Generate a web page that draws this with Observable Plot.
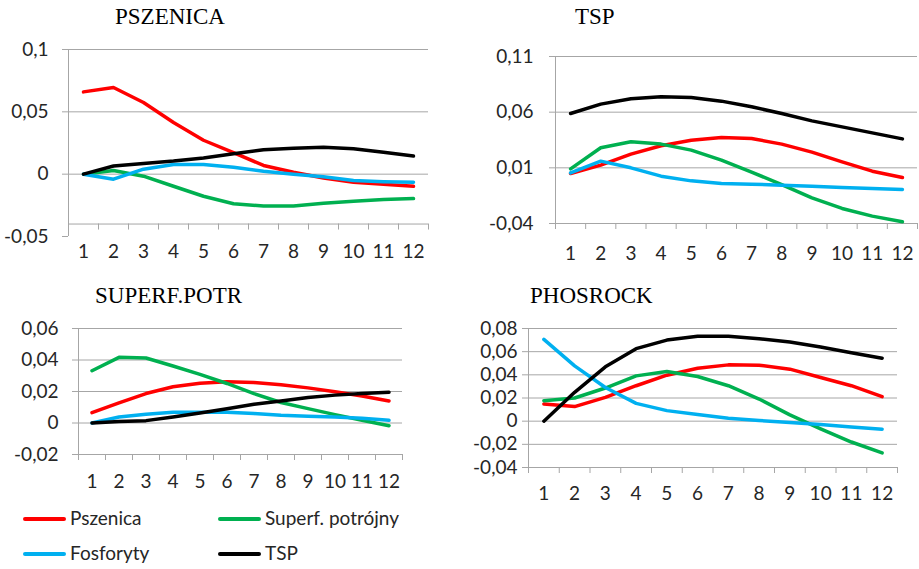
<!DOCTYPE html>
<html>
<head>
<meta charset="utf-8">
<script src="https://cdn.jsdelivr.net/npm/d3@7"></script>
<script src="https://cdn.jsdelivr.net/npm/@observablehq/plot@0.6"></script>
<style>
  html, body { margin: 0; padding: 0; background: #ffffff; }
  #root { position: relative; width: 919px; height: 569px; overflow: hidden; background: #ffffff; }
  .layer { position: absolute; left: 0; top: 0; }
  .title { position: absolute; font-family: "Liberation Serif", "Times New Roman", serif; font-size: 23px; line-height: 23px; color: #000; white-space: nowrap; }
  .leg { position: absolute; font-family: Lato, "Open Sans", sans-serif; font-size: 19px; line-height: 22px; color: #262626; white-space: nowrap; }
  .sw { position: absolute; height: 4px; border-radius: 2px; }
</style>
</head>
<body>
<div id="root"></div>
<script>
// ---------- data ----------
const categories = [1, 2, 3, 4, 5, 6, 7, 8, 9, 10, 11, 12];
const seriesNames = ["Pszenica", "Superf. potrójny", "Fosforyty", "TSP"];
const seriesColors = ["#ff0000", "#00b050", "#00b0f0", "#000000"];
const panelTitles = ["PSZENICA", "TSP", "SUPERF.POTR", "PHOSROCK"];

// PSZENICA
const pszenica_Pszenica = [0.066, 0.0695, 0.0575, 0.0414, 0.0272, 0.0172, 0.007, 0.0016, -0.003, -0.0065, -0.008, -0.0097];
const pszenica_Superf = [0, 0.003, -0.0016, -0.0097, -0.0177, -0.0237, -0.0255, -0.0255, -0.0234, -0.0218, -0.0204, -0.0196];
const pszenica_Fosforyty = [0, -0.004, 0.004, 0.0078, 0.0078, 0.0056, 0.0024, 0, -0.002, -0.005, -0.006, -0.0065];
const pszenica_TSP = [0, 0.0065, 0.0086, 0.0105, 0.013, 0.0164, 0.0196, 0.0207, 0.0215, 0.0204, 0.0175, 0.0145];
const pszenicaTicks = [-0.05, 0, 0.05, 0.1];

// TSP
const tsp_Pszenica = [0.0049, 0.0124, 0.0223, 0.0298, 0.0348, 0.0372, 0.0363, 0.0313, 0.0241, 0.0154, 0.007, 0.0013];
const tsp_Superf = [0.0091, 0.028, 0.0334, 0.0313, 0.0259, 0.0169, 0.0061, -0.005, -0.017, -0.0265, -0.0334, -0.0385];
const tsp_Fosforyty = [0.0055, 0.016, 0.01, 0.0025, -0.0017, -0.0041, -0.0047, -0.0056, -0.0065, -0.0077, -0.0086, -0.0095];
const tsp_TSP = [0.0588, 0.0672, 0.072, 0.0738, 0.0732, 0.0699, 0.0648, 0.0588, 0.0522, 0.0468, 0.0414, 0.036];
const tspTicks = [-0.04, 0.01, 0.06, 0.11];

// SUPERF.POTR
const superf_Pszenica = [0.0066, 0.0128, 0.0187, 0.023, 0.0253, 0.0262, 0.0257, 0.0243, 0.0223, 0.0198, 0.0172, 0.014];
const superf_Superf = [0.0332, 0.0417, 0.0413, 0.0362, 0.0309, 0.0251, 0.0187, 0.013, 0.0091, 0.0053, 0.0017, -0.0017];
const superf_Fosforyty = [0, 0.0038, 0.0055, 0.0068, 0.0068, 0.0068, 0.006, 0.0049, 0.0043, 0.0038, 0.003, 0.0017];
const superf_TSP = [0, 0.0009, 0.0015, 0.0038, 0.0064, 0.0091, 0.0119, 0.014, 0.0162, 0.0177, 0.0187, 0.0196];
const superfTicks = [-0.02, 0, 0.02, 0.04, 0.06];

// PHOSROCK
const phos_Pszenica = [0.0149, 0.0126, 0.0206, 0.0306, 0.0397, 0.0457, 0.0486, 0.0483, 0.0449, 0.0377, 0.0306, 0.0211];
const phos_Superf = [0.0177, 0.02, 0.0286, 0.0391, 0.0429, 0.0386, 0.0306, 0.0191, 0.0054, -0.0066, -0.018, -0.0274];
const phos_Fosforyty = [0.0706, 0.0477, 0.0291, 0.0154, 0.0091, 0.0057, 0.0026, 0.0006, -0.0011, -0.0029, -0.0051, -0.0069];
const phos_TSP = [0, 0.0249, 0.0469, 0.0626, 0.07, 0.0734, 0.0734, 0.0711, 0.0683, 0.064, 0.0591, 0.0543];
const phosTicks = [-0.04, -0.02, 0, 0.02, 0.04, 0.06, 0.08];

// ---------- drawing ----------
const W = 919, H = 569;
const root = document.getElementById("root");
const GRID = "#a6a6a6";
const TEXT = "#262626";
const fmt = d => String(d).replace(".", ",");

function panel(cfg) {
  const data = cfg.series.flatMap((vals, i) =>
    vals.map((v, j) => ({x: categories[j], y: v, s: seriesNames[i]})));
  const [l, t, r, b] = cfg.frame;
  const xDomain = [categories[0] - 0.5, categories[categories.length - 1] + 0.5];
  const bounds = categories.map(c => c - 0.5).concat([xDomain[1]]);
  const yDomain = [cfg.ticks[0], cfg.ticks[cfg.ticks.length - 1]];
  const chart = Plot.plot({
    width: W, height: H,
    marginLeft: l, marginTop: t, marginRight: W - r, marginBottom: H - b,
    style: {background: "transparent", fontFamily: "Lato, 'Open Sans', sans-serif", fontSize: "19px", overflow: "visible"},
    x: {domain: xDomain, label: null},
    y: {domain: yDomain, label: null},
    color: {domain: seriesNames, range: seriesColors},
    marks: [
      Plot.ruleY(cfg.ticks.filter(v => v > cfg.cross), {stroke: GRID, strokeWidth: 1}),
      Plot.ruleY([cfg.cross], {stroke: GRID, strokeWidth: 1}),
      Plot.ruleX([xDomain[0]], {stroke: GRID, strokeWidth: 1}),
      Plot.ruleX(bounds, {y1: cfg.cross, y2: cfg.cross, insetBottom: -6, stroke: GRID, strokeWidth: 1}),
      Plot.axisY({ticks: cfg.ticks, tickFormat: fmt, tickSize: 6, tickPadding: cfg.yPad, stroke: GRID, fill: TEXT, fontSize: 19, label: null}),
      Plot.axisX({ticks: categories, tickFormat: d => String(d), tickSize: 0, tickPadding: cfg.xPad, fill: TEXT, fontSize: 19, label: null}),
      Plot.line(data, {x: "x", y: "y", z: "s", stroke: "s", strokeWidth: 3.5, strokeLinejoin: "round", strokeLinecap: "round"})
    ]
  });
  const wrap = document.createElement("div");
  wrap.className = "layer";
  wrap.appendChild(chart);
  root.appendChild(wrap);

  const tt = document.createElement("div");
  tt.className = "title";
  tt.textContent = cfg.title;
  tt.style.left = cfg.titlePos[0] + "px";
  tt.style.top = cfg.titlePos[1] + "px";
  root.appendChild(tt);
}

panel({title: panelTitles[0], ticks: pszenicaTicks, cross: -0.04,
  series: [pszenica_Pszenica, pszenica_Superf, pszenica_Fosforyty, pszenica_TSP],
  frame: [68, 49, 428, 236], yPad: 14, xPad: 8, titlePos: [115, 5]});
panel({title: panelTitles[1], ticks: tspTicks, cross: -0.04,
  series: [tsp_Pszenica, tsp_Superf, tsp_Fosforyty, tsp_TSP],
  frame: [555, 56, 917, 223], yPad: 16, xPad: 23, titlePos: [575, 5]});
panel({title: panelTitles[2], ticks: superfTicks, cross: -0.02,
  series: [superf_Pszenica, superf_Superf, superf_Fosforyty, superf_TSP],
  frame: [78, 328, 402, 454], yPad: 14, xPad: 20, titlePos: [95, 284]});
panel({title: panelTitles[3], ticks: phosTicks, cross: -0.04,
  series: [phos_Pszenica, phos_Superf, phos_Fosforyty, phos_TSP],
  frame: [528, 328, 897, 467], yPad: 5, xPad: 19, titlePos: [530, 284]});

// ---------- legend ----------
const legendPos = [[23, 519], [218, 519], [23, 554], [218, 554]];
seriesNames.forEach((name, i) => {
  const [x, y] = legendPos[i];
  const sw = document.createElement("div");
  sw.className = "sw";
  sw.style.left = x + "px";
  sw.style.top = (y - 2) + "px";
  sw.style.width = "43px";
  sw.style.background = seriesColors[i];
  root.appendChild(sw);
  const lb = document.createElement("div");
  lb.className = "leg";
  lb.textContent = name;
  lb.style.left = (x + 47) + "px";
  lb.style.top = (y - 12) + "px";
  root.appendChild(lb);
});
</script>
</body>
</html>
